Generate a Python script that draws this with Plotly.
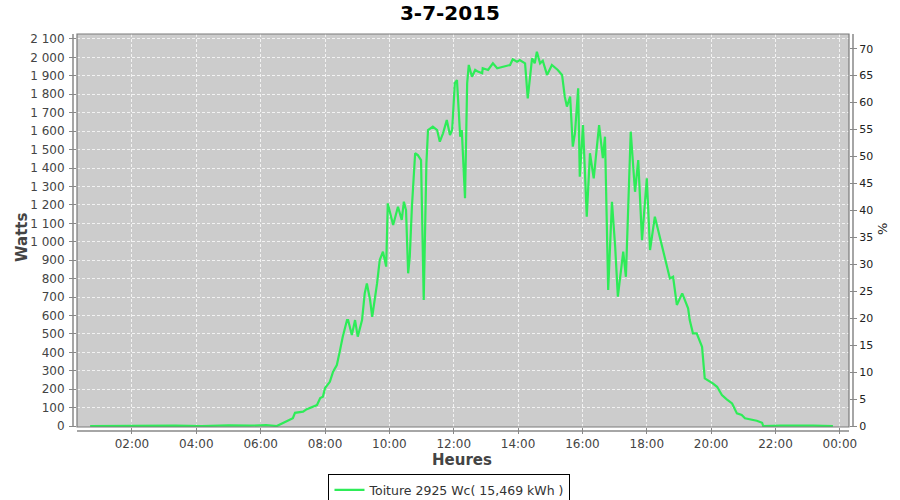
import plotly.graph_objects as go

DAY = "2015-07-03"
PEAK_WC = 2925

times = ["00:42", "01:30", "02:30", "03:20", "04:10", "05:00", "05:40", "06:10", "06:30",
         "06:49", "07:00", "07:04", "07:13", "07:19", "07:26", "07:38", "07:45", "07:51", "07:56",
         "08:00", "08:09", "08:15", "08:22", "08:28", "08:33", "08:41", "08:43", "08:50", "08:56",
         "09:01", "09:09", "09:14", "09:18", "09:24", "09:28", "09:37", "09:42", "09:48", "09:54",
         "09:57", "10:07", "10:16", "10:23", "10:27", "10:31", "10:35", "10:38", "10:42", "10:48",
         "10:53", "10:59", "11:04", "11:09", "11:12", "11:16", "11:21", "11:29", "11:34", "11:40",
         "11:47", "11:53", "11:57", "12:02", "12:06", "12:12", "12:15", "12:21", "12:25", "12:28",
         "12:34", "12:40", "12:45", "12:53", "12:54", "13:04", "13:13", "13:21", "13:32", "13:45",
         "13:50", "13:58", "14:03", "14:13", "14:18", "14:26", "14:31", "14:35", "14:41", "14:46",
         "14:54", "15:03", "15:14", "15:22", "15:27", "15:31", "15:37", "15:42", "15:46", "15:52",
         "15:55", "16:01", "16:08", "16:14", "16:21", "16:31", "16:38", "16:42", "16:48", "16:55",
         "17:01", "17:06", "17:16", "17:21", "17:30", "17:38", "17:44", "17:51", "18:00", "18:06",
         "18:15", "18:30", "18:43", "18:49", "18:56", "19:06", "19:17", "19:20", "19:26", "19:33",
         "19:43", "19:48", "19:54", "20:03", "20:11", "20:20", "20:29", "20:39", "20:48", "20:57",
         "21:03", "21:12", "21:25", "21:35", "21:37", "22:10", "22:40", "23:10", "23:47"]

watts = [0, 2, 1, 3, 0, 4, 2, 5, 0,
         25, 43, 72, 76, 78, 92, 105, 114, 152, 159,
         206, 240, 295, 331, 412, 485, 575, 575, 494, 575,
         485, 575, 720, 774, 684, 593, 774, 901, 946, 865,
         1208, 1091, 1190, 1118, 1217, 1172, 829, 919, 1190, 1480,
         1470, 1443, 684, 1425, 1606, 1615, 1624, 1606, 1543, 1588,
         1660, 1579, 1606, 1860, 1877, 1570, 1606, 1236, 1860, 1959,
         1895, 1932, 1923, 1914, 1941, 1932, 1968, 1941, 1950, 1959,
         1990, 1977, 1986, 1968, 1778, 1995, 1968, 2031, 1968, 1982,
         1905, 1959, 1932, 1905, 1787, 1733, 1787, 1516, 1588, 1832,
         1353, 1633, 1136, 1480, 1344, 1633, 1453, 1570, 738, 1217,
         973, 702, 946, 810, 1597, 1271, 1443, 1009, 1344, 955,
         1136, 955, 801, 810, 657, 720, 639, 575, 503, 503,
         430, 259, 250, 232, 213, 168, 145, 123, 69, 60,
         42, 36, 29, 18, 0, 2, 3, 2, 0]

y_ticks = list(range(0, 2101, 100))
y_tick_labels = [f"{v:,}".replace(",", " ") for v in y_ticks]
pct_ticks = list(range(0, 71, 5))
x_tick_labels = ["02:00", "04:00", "06:00", "08:00", "10:00", "12:00",
                 "14:00", "16:00", "18:00", "20:00", "22:00", "00:00"]
x_tick_vals = [f"{DAY} {h:02d}:00" for h in range(2, 24, 2)] + ["2015-07-04 00:00"]

legend_name = "Toiture 2925 Wc( 15,469 kWh )"

x = [f"{DAY} {t}" for t in times]
pct = [w / PEAK_WC * 100 for w in watts]

FONT = "DejaVu Sans"
GREEN = "#2EEC58"
GRID = "rgba(255,255,255,0.75)"
W, H = 900, 500

fig = go.Figure()
fig.add_trace(go.Scatter(x=x, y=watts, mode="lines", name=legend_name,
                         line=dict(color=GREEN, width=2.2)))
fig.add_trace(go.Scatter(x=x, y=pct, mode="lines", yaxis="y2", showlegend=False,
                         hoverinfo="skip", line=dict(color="rgba(0,0,0,0)", width=0)))

y_lo, y_hi = -5, 2127
fig.update_layout(
    width=W, height=H,
    margin=dict(l=77, r=W - 849, t=34, b=H - 427, autoexpand=False),
    paper_bgcolor="white", plot_bgcolor="#CCCCCC",
    font=dict(family=FONT, size=12, color="#444444"),
    title=dict(text="<b>3-7-2015</b>", x=0.5, xanchor="center",
               y=1 - 13 / H, yanchor="middle",
               font=dict(family=FONT, size=20, color="#000000")),
    xaxis=dict(type="date", range=["2015-07-03 00:17:30", "2015-07-04 00:17:00"],
               tickvals=x_tick_vals, ticktext=x_tick_labels, automargin=False,
               ticks="outside", ticklen=6, tickcolor="#888888",
               showgrid=True, gridcolor=GRID, griddash="3px,2px", gridwidth=1,
               zeroline=False, showline=False,
               tickfont=dict(family=FONT, size=12, color="#444444")),
    yaxis=dict(range=[y_lo, y_hi], tickvals=y_ticks, ticktext=y_tick_labels, automargin=False,
               ticks="outside", ticklen=7, tickcolor="#888888", ticklabelstandoff=2,
               showgrid=True, gridcolor=GRID, griddash="3px,2px", gridwidth=1,
               zeroline=False, showline=False,
               tickfont=dict(family=FONT, size=12, color="#444444")),
    yaxis2=dict(overlaying="y", side="right", automargin=False,
                range=[y_lo / PEAK_WC * 100, y_hi / PEAK_WC * 100],
                tickvals=pct_ticks, ticks="outside", ticklen=7, tickcolor="#888888",
                showgrid=False, zeroline=False, showline=False,
                tickfont=dict(family=FONT, size=11, color="#222222")),
    legend=dict(orientation="h", x=0.4825, xanchor="center", y=-0.12, yanchor="top",
                bordercolor="#000000", borderwidth=1, bgcolor="white",
                itemwidth=30, font=dict(family=FONT, size=12.5, color="#333333")),
    showlegend=True,
)

# plot border and offset axis lines (JFreeChart style)
fig.add_shape(type="rect", xref="paper", yref="paper", x0=0, x1=1, y0=0, y1=1,
              line=dict(color="#7A7A7A", width=1.2))
fig.add_shape(type="line", xref="paper", yref="paper", x0=-4 / 772, x1=-4 / 772, y0=0, y1=1,
              line=dict(color="#888888", width=1.5))
fig.add_shape(type="line", xref="paper", yref="paper", x0=0, x1=1, y0=-4 / 393, y1=-4 / 393,
              line=dict(color="#888888", width=1.5))
fig.add_shape(type="line", xref="paper", yref="paper", x0=1 + 4 / 772, x1=1 + 4 / 772, y0=0, y1=1,
              line=dict(color="#888888", width=1.5))

fig.add_annotation(text="<b>Watts</b>", xref="paper", yref="paper", x=(22 - 77) / 772,
                   y=(427 - 238) / 393, xanchor="center", yanchor="middle",
                   textangle=-90, showarrow=False,
                   font=dict(family=FONT, size=15, color="#444444"))
fig.add_annotation(text="<b>Heures</b>", xref="paper", yref="paper", x=(462 - 77) / 772,
                   y=(427 - 460) / 393, xanchor="center", yanchor="middle", showarrow=False,
                   font=dict(family=FONT, size=15, color="#444444"))
fig.add_annotation(text="%", xref="paper", yref="paper", x=(882 - 77) / 772,
                   y=(427 - 229) / 393, xanchor="center", yanchor="middle",
                   textangle=-90, showarrow=False,
                   font=dict(family=FONT, size=13, color="#222222"))

fig.write_html("out.html", config={"displayModeBar": False},
               post_script="document.body.style.margin='0';document.body.style.overflow='hidden';")
